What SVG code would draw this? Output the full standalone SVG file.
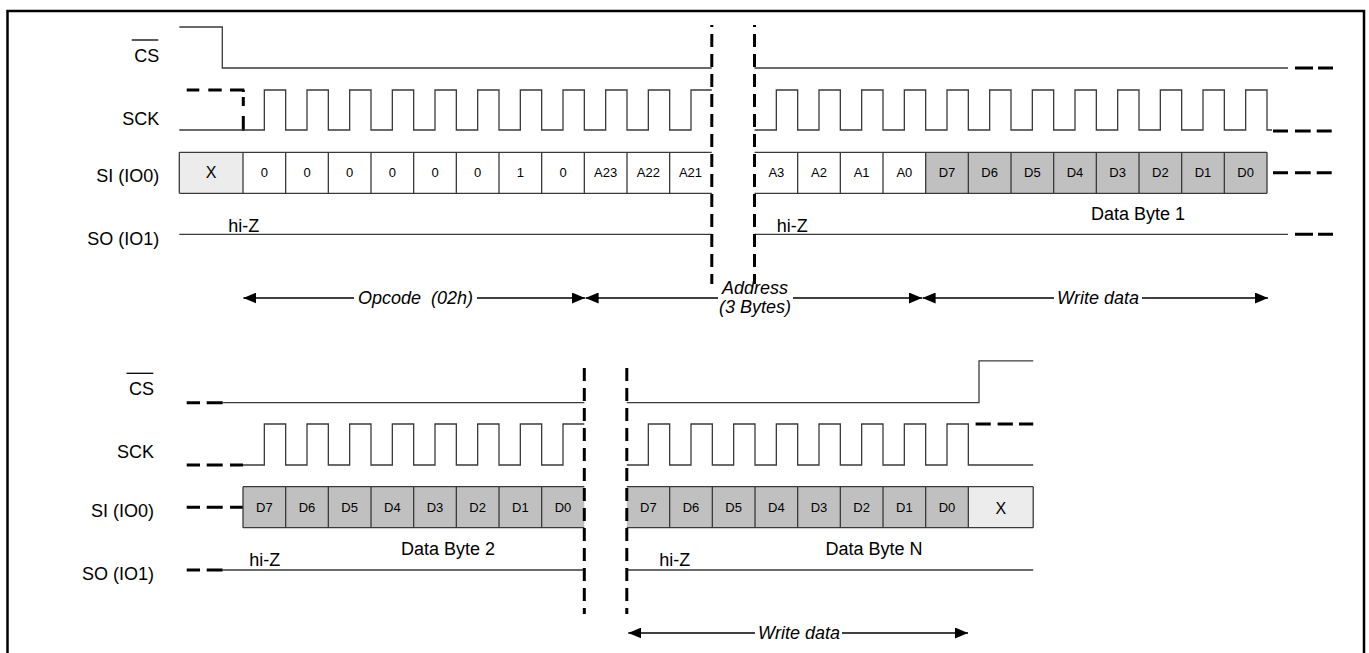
<svg xmlns="http://www.w3.org/2000/svg" width="1369" height="653" viewBox="0 0 1369 653">
<style>
.sig{fill:none;stroke:#3a3a3a;stroke-width:1.3}
.dsh{fill:none;stroke:#000;stroke-width:3}
.vd{fill:none;stroke:#000;stroke-width:3;stroke-dasharray:13 7}
.t{font-family:"Liberation Sans",Arial,sans-serif;fill:#000}
.lbl{font-size:18px;text-anchor:end}
.c{font-size:13px;text-anchor:middle}
.x{font-size:16px;text-anchor:middle}
.m{font-size:18px;text-anchor:middle}
.hz{font-size:18px}
.it{font-style:italic;font-size:18px;text-anchor:middle}
.dfill{fill:#c0c0c0;stroke:none}
.xfill{fill:#ececec;stroke:none}
.arr{fill:none;stroke:#000;stroke-width:1.3}
</style>
<defs>
<marker id="ah" viewBox="0 0 13 11" refX="13" refY="5.5" markerWidth="13" markerHeight="11" markerUnits="userSpaceOnUse" orient="auto">
<path d="M0,0 L13,5.5 L0,11 z" fill="#000"/>
</marker>
</defs>
<rect width="1369" height="653" fill="#fff"/>
<path id="border" d="M7.5,660 V11 H1364 V660" fill="none" stroke="#000" stroke-width="2.5"/>

<g id="labels-top" class="t">
<text class="t lbl" x="159.3" y="61.7">CS</text>
<line x1="131.7" y1="40" x2="158.3" y2="40" stroke="#000" stroke-width="1.3"/>
<text class="t lbl" x="159.3" y="125">SCK</text>
<text class="t lbl" x="159.3" y="181.7">SI (IO0)</text>
<text class="t lbl" x="159.3" y="245">SO (IO1)</text>
</g>

<g id="labels-bottom" class="t">
<text class="t lbl" x="154" y="395">CS</text>
<line x1="126.5" y1="373.3" x2="153.3" y2="373.3" stroke="#000" stroke-width="1.3"/>
<text class="t lbl" x="154" y="458">SCK</text>
<text class="t lbl" x="154" y="516.5">SI (IO0)</text>
<text class="t lbl" x="154" y="580">SO (IO1)</text>
</g>

<g id="top-cs">
<path class="sig" d="M179.3,27 H222.3 V68 H711.8"/>
<path class="sig" d="M754.5,68 H1288"/>
<path class="dsh" d="M1295,68 H1313 M1318,68 H1333"/>
</g>

<g id="top-sck">
<path class="dsh" d="M186.7,90 H199.3 M208.3,90 H221.7 M230,90 H244.3"/>
<path class="dsh" d="M243.3,90 V92 M243.3,97 V106 M243.3,116 V131"/>
<path class="sig" d="M179.3,130 H264.33 V90 H285.67 V130 H307 V90 H328.33 V130 H349.67 V90 H371 V130 H392.33 V90 H413.67 V130 H435 V90 H456.33 V130 H477.67 V90 H499 V130 H520.33 V90 H541.67 V130 H563 V90 H584.33 V130 H605.67 V90 H627 V130 H648.33 V90 H669.67 V130 H691 V90 H711.8"/>
<path class="sig" d="M754.5,130 H776.33 V90 H797.67 V130 H819 V90 H840.33 V130 H861.67 V90 H883 V130 H904.33 V90 H925.67 V130 H947 V90 H968.33 V130 H989.67 V90 H1011 V130 H1032.33 V90 H1053.67 V130 H1075 V90 H1096.33 V130 H1117.67 V90 H1139 V130 H1160.33 V90 H1181.67 V130 H1203 V90 H1224.33 V130 H1245.67 V90 H1267 V130 H1272"/>
<path class="dsh" d="M1273,131 H1288 M1295,131 H1310.7 M1316.7,131 H1331.7"/>
</g>

<g id="top-si">
<rect class="xfill" x="179.3" y="152.3" width="63.7" height="41"/>
<rect class="dfill" x="925.67" y="152.3" width="341.33" height="41"/>
<path class="sig" d="M179.3,152.3 H711.8 M179.3,193.3 H711.8 M754.5,152.3 H1267 M754.5,193.3 H1267"/>
<path class="sig" d="M179.3,152.3 V193.3 M243,152.3 V193.3 M285.67,152.3 V193.3 M328.33,152.3 V193.3 M371,152.3 V193.3 M413.67,152.3 V193.3 M456.33,152.3 V193.3 M499,152.3 V193.3 M541.67,152.3 V193.3 M584.33,152.3 V193.3 M627,152.3 V193.3 M669.67,152.3 V193.3 M797.67,152.3 V193.3 M840.33,152.3 V193.3 M883,152.3 V193.3 M925.67,152.3 V193.3 M968.33,152.3 V193.3 M1011,152.3 V193.3 M1053.67,152.3 V193.3 M1096.33,152.3 V193.3 M1139,152.3 V193.3 M1181.67,152.3 V193.3 M1224.33,152.3 V193.3 M1267,152.3 V193.3"/>
<text class="t x" x="211.2" y="178">X</text>
<text class="t c" x="264.33" y="177">0</text>
<text class="t c" x="307" y="177">0</text>
<text class="t c" x="349.67" y="177">0</text>
<text class="t c" x="392.33" y="177">0</text>
<text class="t c" x="435" y="177">0</text>
<text class="t c" x="477.67" y="177">0</text>
<text class="t c" x="520.33" y="177">1</text>
<text class="t c" x="563" y="177">0</text>
<text class="t c" x="605.67" y="177">A23</text>
<text class="t c" x="648.33" y="177">A22</text>
<text class="t c" x="690.5" y="177">A21</text>
<text class="t c" x="776.33" y="177">A3</text>
<text class="t c" x="819" y="177">A2</text>
<text class="t c" x="861.67" y="177">A1</text>
<text class="t c" x="904.33" y="177">A0</text>
<text class="t c" x="947" y="177">D7</text>
<text class="t c" x="989.67" y="177">D6</text>
<text class="t c" x="1032.33" y="177">D5</text>
<text class="t c" x="1075" y="177">D4</text>
<text class="t c" x="1117.67" y="177">D3</text>
<text class="t c" x="1160.33" y="177">D2</text>
<text class="t c" x="1203" y="177">D1</text>
<text class="t c" x="1245.67" y="177">D0</text>
<path class="dsh" d="M1273,172.8 H1288 M1295,172.8 H1310.7 M1316.7,172.8 H1331.7"/>
<text class="t m" x="1138" y="220">Data Byte 1</text>
</g>

<g id="top-so">
<path class="sig" d="M179.3,234.3 H711.8 M754.5,234.3 H1288"/>
<path class="dsh" d="M1295,234.3 H1313 M1318,234.3 H1333"/>
<text class="t hz" x="228.3" y="231.5">hi-Z</text>
<text class="t hz" x="776.7" y="231.5">hi-Z</text>
</g>

<g id="top-breaks">
<path class="vd" d="M711.8,25 V284" stroke-dashoffset="11"/>
<path class="vd" d="M754.5,25 V284" stroke-dashoffset="11"/>
</g>

<g id="bottom-cs">
<path class="dsh" d="M186.7,402.7 H200 M206.7,402.7 H222.7"/>
<path class="sig" d="M222.7,402.7 H584.3 M626.8,402.7 H979 V360.8 H1033.2"/>
</g>

<g id="bottom-sck">
<path class="dsh" d="M186.7,465 H200 M206.7,465 H222.7 M230,465 H243"/>
<path class="sig" d="M243,465 H264.33 V424 H285.67 V465 H307 V424 H328.33 V465 H349.67 V424 H371 V465 H392.33 V424 H413.67 V465 H435 V424 H456.33 V465 H477.67 V424 H499 V465 H520.33 V424 H541.67 V465 H563 V424 H584.3"/>
<path class="sig" d="M626.8,465 H648.33 V424 H669.67 V465 H691 V424 H712.33 V465 H733.67 V424 H755 V465 H776.33 V424 H797.67 V465 H819 V424 H840.33 V465 H861.67 V424 H883 V465 H904.33 V424 H925.67 V465 H947 V424 H968.33 V465 H1033.2"/>
<path class="dsh" d="M975.6,424 H990.8 M997.6,424 H1012.9 M1019,424 H1033.2"/>
</g>

<g id="bottom-si">
<path class="dsh" d="M186.7,507.2 H200 M206.7,507.2 H222.7 M230,507.2 H243"/>
<rect class="dfill" x="243" y="486.7" width="341.3" height="41"/>
<rect class="dfill" x="626.8" y="486.7" width="341.53" height="41"/>
<rect class="xfill" x="968.33" y="486.7" width="64.87" height="41"/>
<path class="sig" d="M243,486.7 H584.3 M243,527.7 H584.3 M626.8,486.7 H1033.2 M626.8,527.7 H1033.2"/>
<path class="sig" d="M243,486.7 V527.7 M285.67,486.7 V527.7 M328.33,486.7 V527.7 M371,486.7 V527.7 M413.67,486.7 V527.7 M456.33,486.7 V527.7 M499,486.7 V527.7 M541.67,486.7 V527.7 M669.67,486.7 V527.7 M712.33,486.7 V527.7 M755,486.7 V527.7 M797.67,486.7 V527.7 M840.33,486.7 V527.7 M883,486.7 V527.7 M925.67,486.7 V527.7 M968.33,486.7 V527.7 M1033.2,486.7 V527.7"/>
<text class="t c" x="264.33" y="511.6">D7</text>
<text class="t c" x="307" y="511.6">D6</text>
<text class="t c" x="349.67" y="511.6">D5</text>
<text class="t c" x="392.33" y="511.6">D4</text>
<text class="t c" x="435" y="511.6">D3</text>
<text class="t c" x="477.67" y="511.6">D2</text>
<text class="t c" x="520.33" y="511.6">D1</text>
<text class="t c" x="563" y="511.6">D0</text>
<text class="t c" x="648.33" y="511.6">D7</text>
<text class="t c" x="691" y="511.6">D6</text>
<text class="t c" x="733.67" y="511.6">D5</text>
<text class="t c" x="776.33" y="511.6">D4</text>
<text class="t c" x="819" y="511.6">D3</text>
<text class="t c" x="861.67" y="511.6">D2</text>
<text class="t c" x="904.33" y="511.6">D1</text>
<text class="t c" x="947" y="511.6">D0</text>
<text class="t x" x="1000.8" y="513.5">X</text>
<text class="t m" x="448" y="555">Data Byte 2</text>
<text class="t m" x="874" y="555">Data Byte N</text>
</g>

<g id="bottom-so">
<path class="dsh" d="M186.7,570 H200 M206.7,570 H222.7"/>
<path class="sig" d="M222.7,570 H584.3 M626.8,570 H1033.2"/>
<text class="t hz" x="249.3" y="566">hi-Z</text>
<text class="t hz" x="659.3" y="566">hi-Z</text>
</g>

<g id="bottom-breaks">
<path class="vd" d="M584.3,368 V614"/>
<path class="vd" d="M626.8,368 V614"/>
</g>

<g id="connectors">
<path class="arr" d="M354,298 H243.4" marker-end="url(#ah)"/>
<path class="arr" d="M477,298 H585" marker-end="url(#ah)"/>
<path class="arr" d="M718,298 H585.6" marker-end="url(#ah)"/>
<path class="arr" d="M793,298 H922" marker-end="url(#ah)"/>
<path class="arr" d="M1054,298 H922.6" marker-end="url(#ah)"/>
<path class="arr" d="M1142,298 H1268" marker-end="url(#ah)"/>
<path class="arr" d="M755,633 H628.3" marker-end="url(#ah)"/>
<path class="arr" d="M842,633 H968" marker-end="url(#ah)"/>
</g>

<g id="arrow-labels">
<text class="t it" x="415.5" y="304" xml:space="preserve">Opcode  (02h)</text>
<text class="t it" x="755" y="294">Address</text>
<text class="t it" x="755" y="313">(3 Bytes)</text>
<text class="t it" x="1098" y="304">Write data</text>
<text class="t it" x="799" y="639">Write data</text>
</g>
</svg>
